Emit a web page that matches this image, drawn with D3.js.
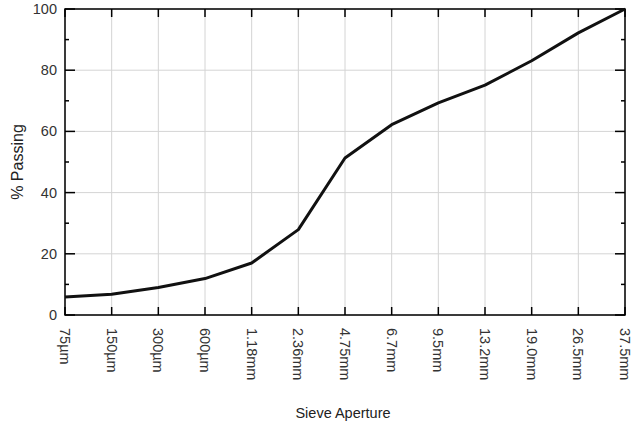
<!DOCTYPE html>
<html>
<head>
<meta charset="utf-8">
<script src="https://cdn.jsdelivr.net/npm/d3@7"></script>
<style>
  body { margin: 0; background: #fff; }
  text { font-family: "Liberation Sans", Arial, sans-serif; }
</style>
</head>
<body>
<svg id="chart" width="635" height="427"></svg>
<script>
// sieve sizes and % passing
var sieves = ["75µm", "150µm", "300µm", "600µm", "1.18mm", "2.36mm", "4.75mm",
              "6.7mm", "9.5mm", "13.2mm", "19.0mm", "26.5mm", "37.5mm"];
var passing = [5.9, 6.8, 9.0, 11.9, 17.0, 27.9, 51.3, 62.2, 69.3, 75.1, 83.1, 92.2, 100];
var yTicks = [0, 20, 40, 60, 80, 100];
var yMinor = [10, 30, 50, 70, 90];

var svg = d3.select("#chart"),
    margin = {top: 9, right: 10, bottom: 112, left: 65},
    width = 635 - margin.left - margin.right,
    height = 427 - margin.top - margin.bottom;

var g = svg.append("g").attr("transform", "translate(" + margin.left + "," + margin.top + ")");

var x = d3.scalePoint().domain(sieves).range([0, width]);
var y = d3.scaleLinear().domain([0, 100]).range([height, 0]);

// grid
g.append("g").selectAll("line").data(sieves).enter().append("line")
    .attr("x1", function(d) { return x(d); }).attr("x2", function(d) { return x(d); })
    .attr("y1", 0).attr("y2", height)
    .attr("stroke", "#d4d4d4").attr("stroke-width", 1);
g.append("g").selectAll("line").data(yTicks).enter().append("line")
    .attr("x1", 0).attr("x2", width)
    .attr("y1", function(d) { return y(d); }).attr("y2", function(d) { return y(d); })
    .attr("stroke", "#d4d4d4").attr("stroke-width", 1);

// inner ticks on all four sides
var tk = g.append("g").attr("stroke", "#000").attr("stroke-width", 1.5);
sieves.forEach(function(s) {
  tk.append("line").attr("x1", x(s)).attr("x2", x(s)).attr("y1", height).attr("y2", height - 8);
  tk.append("line").attr("x1", x(s)).attr("x2", x(s)).attr("y1", 0).attr("y2", 8);
});
yTicks.forEach(function(v) {
  tk.append("line").attr("x1", 0).attr("x2", 10).attr("y1", y(v)).attr("y2", y(v));
  tk.append("line").attr("x1", width).attr("x2", width - 10).attr("y1", y(v)).attr("y2", y(v));
});
yMinor.forEach(function(v) {
  tk.append("line").attr("x1", 0).attr("x2", 4).attr("y1", y(v)).attr("y2", y(v));
  tk.append("line").attr("x1", width).attr("x2", width - 4).attr("y1", y(v)).attr("y2", y(v));
});

// frame
g.append("rect").attr("x", 0).attr("y", 0).attr("width", width).attr("height", height)
    .attr("fill", "none").attr("stroke", "#000").attr("stroke-width", 1.5);

// curve
var line = d3.line()
    .x(function(d, i) { return x(sieves[i]); })
    .y(function(d) { return y(d); });
g.append("path").datum(passing)
    .attr("d", line)
    .attr("fill", "none").attr("stroke", "#111").attr("stroke-width", 3)
    .attr("stroke-linejoin", "round");

// y labels
g.append("g").selectAll("text").data(yTicks).enter().append("text")
    .attr("x", -8).attr("y", function(d) { return y(d); }).attr("dy", "0.35em")
    .attr("text-anchor", "end").attr("font-size", 14.5).attr("fill", "#333")
    .text(function(d) { return d; });

// x labels, rotated
g.append("g").selectAll("text").data(sieves).enter().append("text")
    .attr("transform", function(d) { return "translate(" + x(d) + "," + (height + 13) + ") rotate(90)"; })
    .attr("dy", "0.35em")
    .attr("text-anchor", "start").attr("font-size", 14.5).attr("fill", "#333")
    .text(function(d) { return d; });

// axis titles
svg.append("text")
    .attr("x", margin.left + width / 2 - 2).attr("y", 418)
    .attr("text-anchor", "middle").attr("font-size", 14.5).attr("fill", "#222")
    .text("Sieve Aperture");
svg.append("text")
    .attr("transform", "translate(23," + (margin.top + height / 2) + ") rotate(-90)")
    .attr("text-anchor", "middle").attr("font-size", 16).attr("fill", "#222")
    .text("% Passing");
</script>
</body>
</html>
